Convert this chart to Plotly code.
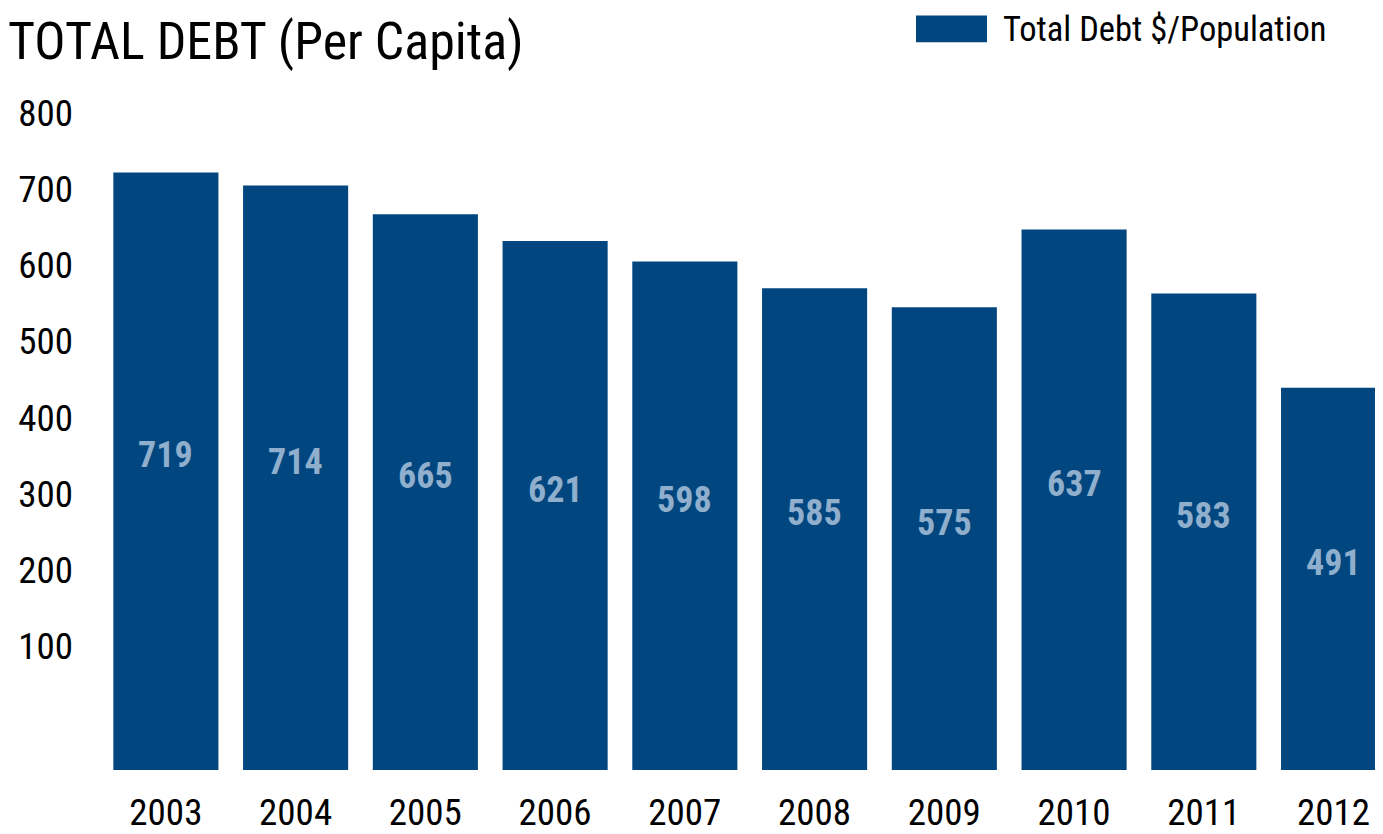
import plotly.graph_objects as go

# ---- data ----
years = ["2003", "2004", "2005", "2006", "2007", "2008", "2009", "2010", "2011", "2012"]
label_values = [719, 714, 665, 621, 598, 585, 575, 637, 583, 491]   # numbers printed in bars
bar_tops = [722, 705, 667, 632, 605, 570, 545, 647, 563, 439]       # bar tops read on the y axis
bar_floor = -63                                                     # bars extend below the axis zero
y_ticks = [100, 200, 300, 400, 500, 600, 700, 800]
series_name = "Total Debt $/Population"
title_text = "TOTAL DEBT (Per Capita)"

# ---- style ----
FONT = "Liberation Sans Narrow, Arial Narrow, Roboto Condensed, DejaVu Sans Condensed, sans-serif"
BAR = "#02467f"
LABEL = "#8fafcd"
OFF = 8                      # page body margin offset
W, H = 1383 - OFF, 834 - OFF
ML, MR, MT, MB = 101 - OFF, 0, 75 - OFF, 57
PW, PH = W - ML - MR, H - MT - MB


def px_x(px):
    return (px - OFF - ML) / PW


def px_y(py):
    return (H - MB - (py - OFF)) / PH


fig = go.Figure()
fig.add_trace(go.Bar(
    x=years,
    y=[t - bar_floor for t in bar_tops],
    base=bar_floor,
    name=series_name,
    marker=dict(color=BAR, line=dict(width=0)),
    width=0.81,
    showlegend=False,
    hoverinfo="skip",
))

annotations = []
for i, (top, lab) in enumerate(zip(bar_tops, label_values)):
    annotations.append(dict(
        x=i, y=top / 2, xref="x", yref="y", text=f"<b>{lab}</b>", showarrow=False,
        font=dict(family=FONT, size=36, color=LABEL), xanchor="center", yanchor="middle", yshift=-8,
    ))

# title
annotations.append(dict(
    x=px_x(6), y=px_y(OFF), xref="paper", yref="paper", text=title_text, showarrow=False,
    font=dict(family=FONT, size=52, color="#000000"), xanchor="left", yanchor="top",
))

# legend (manual, to get the wide swatch)
annotations.append(dict(
    x=px_x(1001), y=px_y(28.5), xref="paper", yref="paper", text=series_name, showarrow=False,
    font=dict(family=FONT, size=34.5, color="#000000"), xanchor="left", yanchor="middle",
))
shapes = [dict(
    type="rect", xref="paper", yref="paper",
    x0=px_x(916), x1=px_x(987), y0=px_y(42), y1=px_y(15),
    fillcolor=BAR, line=dict(width=0),
)]

fig.update_layout(
    width=W, height=H,
    margin=dict(l=ML, r=MR, t=MT, b=MB, pad=0),
    paper_bgcolor="white", plot_bgcolor="white",
    font=dict(family=FONT, color="#000000"),
    annotations=annotations,
    shapes=shapes,
    bargap=0.19,
)
fig.update_xaxes(
    type="category", range=[-0.5, 9.381], showgrid=False, zeroline=False, showline=False,
    ticks="", tickfont=dict(family=FONT, size=37, color="#000000"), ticklabelstandoff=17,
)
fig.update_yaxes(
    range=[bar_floor, 850], tickvals=y_ticks, showgrid=False, zeroline=False, showline=False,
    ticks="", tickfont=dict(family=FONT, size=37, color="#000000"), ticklabelstandoff=27,
)

fig.write_html("out.html")
